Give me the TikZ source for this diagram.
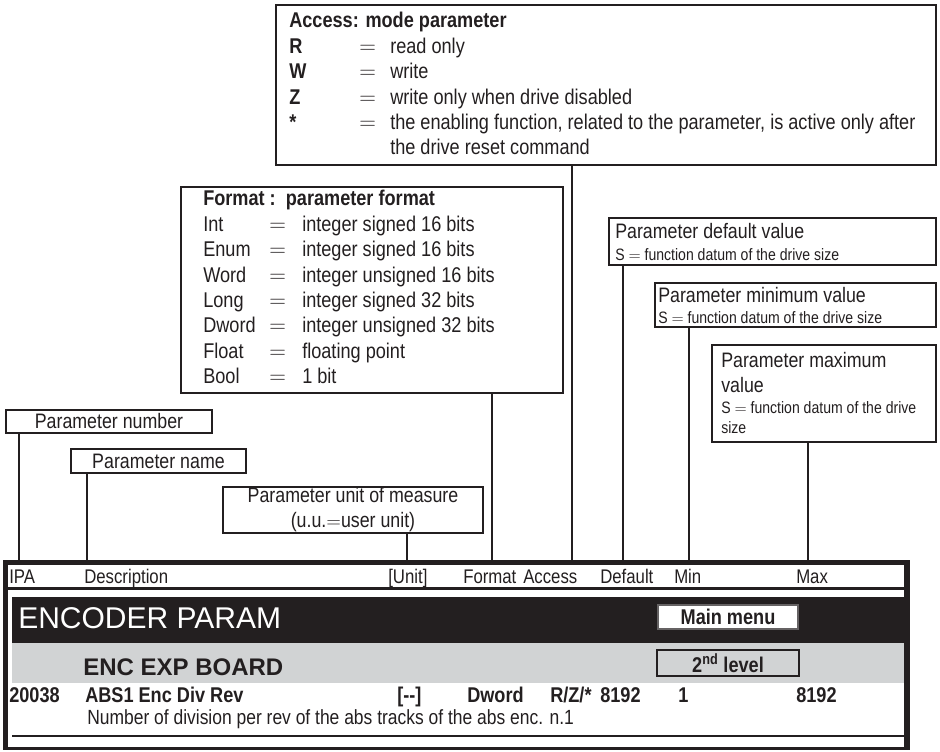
\documentclass[tikz,border=0pt]{standalone}
\usepackage{fontspec}
\setmainfont{Liberation Sans}[FakeStretch=0.85]
\newfontfamily\widesans{Liberation Sans}
\usetikzlibrary{fit}
\definecolor{ink}{HTML}{231F20}
\definecolor{band}{HTML}{D1D3D4}

\tikzset{
  box/.style={draw=ink, line width=0.9pt, inner sep=0pt},
  wire/.style={draw=ink, line width=0.9pt},
  txt/.style={anchor=base west, inner sep=0pt, text=ink, font=\fontsize{16}{19.1}\selectfont},
  lbl/.style={anchor=base west, inner sep=0pt, text=ink, font=\fontsize{15.7}{18.75}\selectfont},
  mid/.style={inner sep=0pt, text=ink, font=\fontsize{15.7}{18.75}\selectfont},
  small/.style={anchor=base west, inner sep=0pt, text=ink, font=\fontsize{12.4}{15}\selectfont},
  head/.style={anchor=base west, inner sep=0pt, text=ink, font=\fontsize{14.8}{17}\selectfont},
  cell/.style={anchor=base west, inner sep=0pt, text=ink, font=\bfseries\fontsize{16}{19}\selectfont},
}

\begin{document}
\begin{tikzpicture}[x=0.75pt, y=-0.75pt]
\useasboundingbox (0,0) rectangle (940,751);

% table frame
\fill[ink] (3,560) rectangle (910,750);
\fill[white] (8,565) rectangle (904,587);
\fill[white] (8,590) rectangle (904,747);
\fill[ink] (12,597) rectangle (904,643);
\fill[band] (12,643) rectangle (904,683);
\draw[ink, line width=1.1pt] (12,736) -- (904,736);

% column points on the table top
\coordinate (cIPA) at (19,564);
\coordinate (cDesc) at (87,564);
\coordinate (cUnit) at (407,564);
\coordinate (cFormat) at (492,564);
\coordinate (cAccess) at (572,564);
\coordinate (cDefault) at (623,564);
\coordinate (cMin) at (689,564);
\coordinate (cMax) at (808,564);

% header row
\node[head] (hIPA) at (9,583) {IPA};
\node[head] (hDesc) at (84,583) {Description};
\node[head] (hUnit) at (388,583) {[Unit]};
\node[head] (hFormat) at (463,583) {Format};
\node[head] (hAccess) at (523,583) {Access};
\node[head] (hDefault) at (600,583) {Default};
\node[head] (hMin) at (674,583) {Min};
\node[head] (hMax) at (796,583) {Max};

% menu bands
\node[anchor=base west, inner sep=0pt, text=white, font=\widesans\fontsize{22.5}{27}\selectfont] (menuName) at (18,628) {ENCODER PARAM};
\node[box, draw=ink!70, fill=white, fit={(658,605) (798,629)}] (mainMenu) {};
\node[mid, font=\bfseries\fontsize{16}{19}\selectfont] (mainMenuT) at (mainMenu.center) {Main menu};
\node[anchor=base west, inner sep=0pt, text=ink, font=\widesans\bfseries\fontsize{18}{22}\selectfont] (subName) at (83,675.6) {ENC EXP BOARD};
\node[box, fill=band, fit={(657,650) (799,676)}] (level) {};
\node[mid, font=\bfseries\fontsize{16}{19}\selectfont] (levelT) at (level.center) {2\textsuperscript{nd} level};

% parameter row
\node[cell] (rIPA) at (9,702.6) {20038};
\node[cell] (rDesc) at (85,702.6) {ABS1 Enc Div Rev};
\node[cell] (rUnit) at (397,702.6) {[-{}-]};
\node[cell] (rFormat) at (467,702.6) {Dword};
\node[cell] (rAccess) at (550,702.6) {R/Z/*};
\node[cell] (rDefault) at (600,702.6) {8192};
\node[cell] (rMin) at (678,702.6) {1};
\node[cell] (rMax) at (796,702.6) {8192};
\node[anchor=base west, inner sep=0pt, text=ink, font=\fontsize{15.4}{18}\selectfont] (rNote) at (87,724) {Number of division per rev of the abs tracks of the abs enc. n.1};

% Access box
\node[box, fit={(276,5) (936,165)}] (access) {};
\node[txt] (accessText) at (289,27.6) {\begin{tabular}[t]{@{}p{52.5pt}@{}p{23.25pt}@{}l@{}}
\multicolumn{3}{@{}l@{}}{\bfseries Access: mode parameter}\\
\bfseries R & $=$ & read only\\
\bfseries W & $=$ & write\\
\bfseries Z & $=$ & write only when drive disabled\\
\bfseries * & $=$ & the enabling function, related to the parameter, is active only after\\
 & & the drive reset command
\end{tabular}};

% Format box
\node[box, fit={(181,187) (563,393)}] (format) {};
\node[txt] (formatText) at (203,205.6) {\begin{tabular}[t]{@{}p{49.5pt}@{}p{24.75pt}@{}l@{}}
\multicolumn{3}{@{}l@{}}{\bfseries Format :\ \ parameter format}\\
Int & $=$ & integer signed 16 bits\\
Enum & $=$ & integer signed 16 bits\\
Word & $=$ & integer unsigned 16 bits\\
Long & $=$ & integer signed 32 bits\\
Dword & $=$ & integer unsigned 32 bits\\
Float & $=$ & floating point\\
Bool & $=$ & 1 bit
\end{tabular}};

% default, min, max boxes
\node[box, fit={(609,218) (936,265)}] (default) {};
\node[lbl] (defaultT) at (615,238.5) {Parameter default value};
\node[small] (defaultS) at (615,260) {S $=$ function datum of the drive size};

\node[box, fit={(655,283) (936,327)}] (min) {};
\node[lbl] (minT) at (658,302.5) {Parameter minimum value};
\node[small] (minS) at (658,323) {S $=$ function datum of the drive size};

\node[box, fit={(712,345) (936,442)}] (max) {};
\node[lbl] (maxT) at (721,367.5) {Parameter maximum};
\node[lbl] (maxT2) at (721,392.5) {value};
\node[small] (maxS) at (721,413) {S $=$ function datum of the drive};
\node[small] (maxS2) at (721,433) {size};

% left boxes
\node[box, fit={(6,410) (212,433)}] (number) {};
\node[mid] (numberT) at (number.center) {Parameter number};
\node[box, fit={(71,449) (246,473)}] (name) {};
\node[mid] (nameT) at (name.center) {Parameter name};
\node[box, fit={(223,487) (483,533)}] (unit) {};
\node[mid, align=center] (unitT) at (unit.center) {Parameter unit of measure\\(u.u.$=$user unit)};

% connectors
\draw[wire] (number.south -| cIPA) -- (cIPA);
\draw[wire] (name.south -| cDesc) -- (cDesc);
\draw[wire] (unit.south -| cUnit) -- (cUnit);
\draw[wire] (format.south -| cFormat) -- (cFormat);
\draw[wire] (access.south -| cAccess) -- (cAccess);
\draw[wire] (default.south -| cDefault) -- (cDefault);
\draw[wire] (min.south -| cMin) -- (cMin);
\draw[wire] (max.south -| cMax) -- (cMax);
\end{tikzpicture}
\end{document}
